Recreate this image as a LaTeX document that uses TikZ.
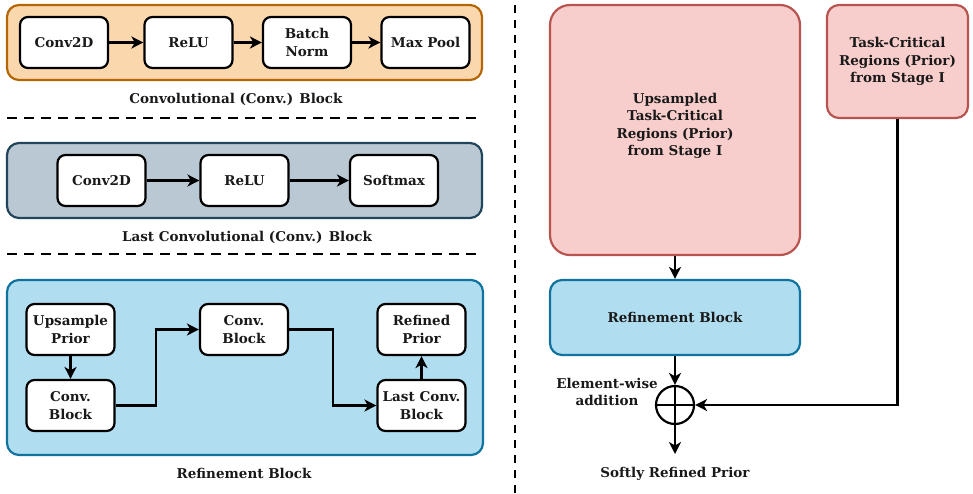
\documentclass[tikz,border=0pt]{standalone}
\usepackage{fontspec}
\setmainfont{DejaVu Serif}
\usetikzlibrary{arrows.meta}
\definecolor{convfill}{HTML}{FAD7AC}
\definecolor{convline}{HTML}{B46504}
\definecolor{lastfill}{HTML}{BAC8D3}
\definecolor{lastline}{HTML}{23445D}
\definecolor{reffill}{HTML}{B1DDF0}
\definecolor{refline}{HTML}{10739E}
\definecolor{priorfill}{HTML}{F8CECC}
\definecolor{priorline}{HTML}{B85450}
\tikzstyle{BoldText}=[font=\bfseries\fontsize{13.5}{17.5}\selectfont, text=black!90, align=center]
\tikzstyle{LayerNode}=[BoldText, rectangle, rounded corners=8pt, draw=black, line width=2.2pt, fill=white, minimum width=88pt, minimum height=51pt, inner sep=1pt]
\tikzstyle{GroupNode}=[rectangle, rounded corners=12pt, line width=2.2pt, minimum width=475pt, minimum height=75pt]
\tikzstyle{ConvGroup}=[GroupNode, draw=convline, fill=convfill]
\tikzstyle{LastGroup}=[GroupNode, draw=lastline, fill=lastfill]
\tikzstyle{RefGroup}=[GroupNode, draw=refline, fill=reffill, minimum height=175pt, minimum width=476pt]
\tikzstyle{PriorNode}=[BoldText, rectangle, draw=priorline, fill=priorfill, line width=2.2pt]
\tikzstyle{Caption}=[BoldText]
\tikzstyle{FlowEdge}=[-{Stealth[length=12pt, width=12pt, inset=3.5pt]}, line width=2.2pt]
\tikzstyle{PlainEdge}=[line width=2.2pt]
\tikzstyle{Separator}=[line width=2.2pt, dash pattern=on 10pt off 7pt]

\begin{document}
\begin{tikzpicture}[x=1pt, y=-1pt]
\useasboundingbox (0,0) rectangle (973,493);

% convolutional block
\node[ConvGroup](convGroup) at (244.5,42.5) {};
\node[LayerNode](c1Conv) at (64,42.5) {Conv2D};
\node[LayerNode](c1Relu) at (188.5,42.5) {ReLU};
\node[LayerNode](c1Norm) at (307,42.5) {Batch\\Norm};
\node[LayerNode](c1Pool) at (425.5,42.5) {Max Pool};
\draw[FlowEdge](c1Conv) -- (c1Relu);
\draw[FlowEdge](c1Relu) -- (c1Norm);
\draw[FlowEdge](c1Norm) -- (c1Pool);
\node[Caption](convCap) at (236,99) {Convolutional (Conv.) Block};

\draw[Separator] (7,118) -- (482,118);

%%%%%%%%%%%%%%%%%%%%%%%%%%%%%%%%%%%%%%%%%

% last convolutional block
\node[LastGroup](lastGroup) at (244.5,180.5) {};
\node[LayerNode](c2Conv) at (101.5,180.5) {Conv2D};
\node[LayerNode](c2Relu) at (244.5,180.5) {ReLU};
\node[LayerNode](c2Soft) at (394,180.5) {Softmax};
\draw[FlowEdge](c2Conv) -- (c2Relu);
\draw[FlowEdge](c2Relu) -- (c2Soft);
\node[Caption](lastCap) at (247,237) {Last Convolutional (Conv.) Block};

\draw[Separator] (7,254) -- (482,254);

%%%%%%%%%%%%%%%%%%%%%%%%%%%%%%%%%%%%%%%%%

% refinement block
\node[RefGroup](refGroup) at (245,367.5) {};
\node[LayerNode](rUp) at (70.5,329.5) {Upsample\\Prior};
\node[LayerNode](rConvA) at (70.5,405.5) {Conv.\\Block};
\node[LayerNode](rConvB) at (244,329.5) {Conv.\\Block};
\node[LayerNode](rLast) at (421.5,405.5) {Last Conv.\\Block};
\node[LayerNode](rOut) at (421.5,329.5) {Refined\\Prior};
\draw[FlowEdge](rUp) -- (rConvA);
\draw[FlowEdge](rConvA.east) -- (156,405.5) -- (156,329.5) -- (rConvB.west);
\draw[FlowEdge](rConvB.east) -- (333,329.5) -- (333,405.5) -- (rLast.west);
\draw[FlowEdge](rLast) -- (rOut);
\node[Caption](refCap) at (244,473) {Refinement Block};

\draw[Separator, dash pattern=on 8pt off 7pt] (515,5) -- (515,493);

%%%%%%%%%%%%%%%%%%%%%%%%%%%%%%%%%%%%%%%%%

% soft refinement of the prior
\node[PriorNode, rounded corners=20pt, minimum width=250pt, minimum height=250pt](upPrior) at (675,130) {Upsampled\\Task-Critical\\Regions (Prior)\\from Stage I\\[-6pt]};
\node[PriorNode, rounded corners=12pt, minimum width=141pt, minimum height=113pt](stagePrior) at (897.5,61.5) {Task-Critical\\Regions (Prior)\\from Stage I};
\node[BoldText, rectangle, rounded corners=12pt, draw=refline, fill=reffill, line width=2.2pt, minimum width=250pt, minimum height=75pt](refBlock) at (675,317.5) {Refinement Block};
\node[circle, draw=black, line width=2.2pt, minimum size=38pt, inner sep=0pt](sum) at (675,405) {};
\draw[PlainEdge] (sum.north) -- (sum.south);
\draw[PlainEdge] (sum.west) -- (sum.east);
\coordinate (sumOut) at (675,454);

\draw[FlowEdge](upPrior) -- (refBlock);
\draw[FlowEdge](refBlock) -- (sum);
\draw[FlowEdge](stagePrior.south) -- (stagePrior.south |- sum.east) -- (sum.east);
\draw[FlowEdge](sum) -- (sumOut);

\node[BoldText](sumLabel) at (607,392) {Element-wise\\addition};
\node[Caption](outLabel) at (675,474) {Softly Refined Prior};
\end{tikzpicture}
\end{document}
